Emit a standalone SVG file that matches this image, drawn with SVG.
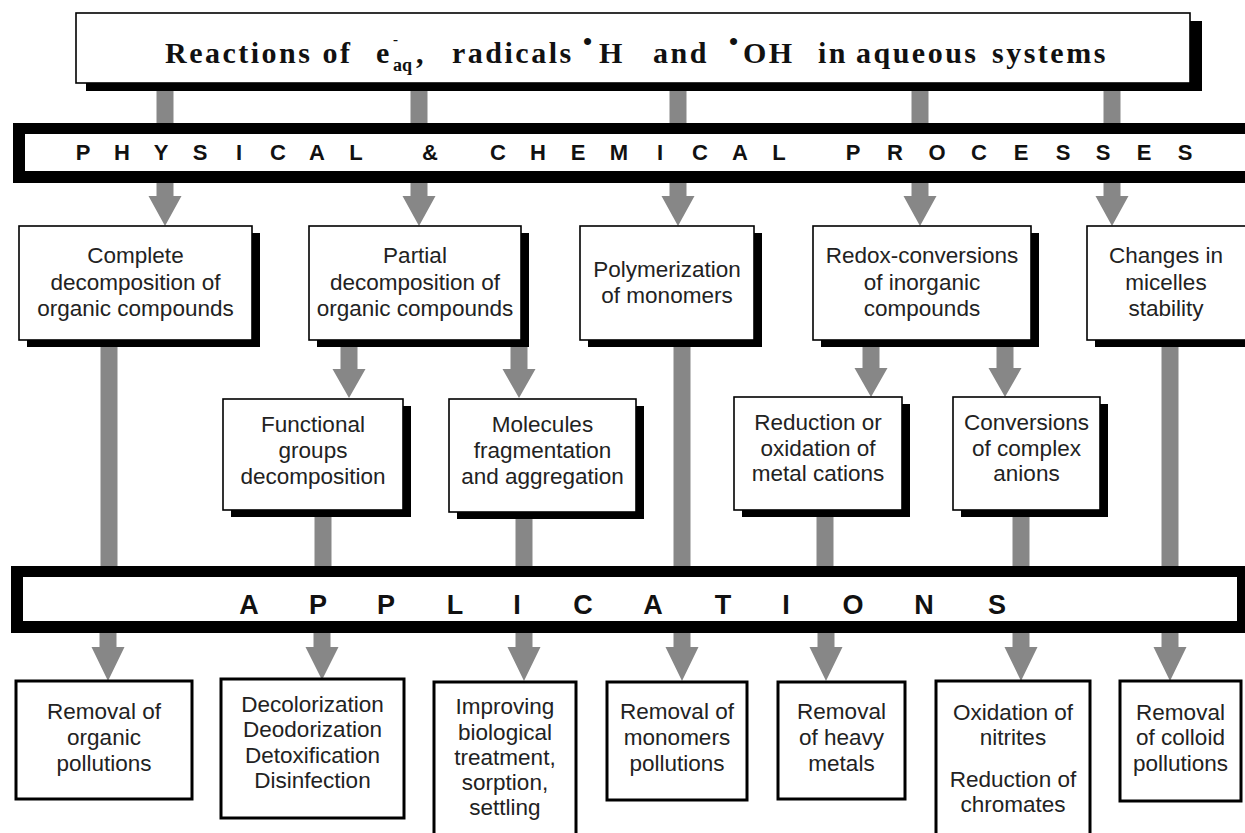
<svg xmlns="http://www.w3.org/2000/svg" width="1245" height="833" viewBox="0 0 1245 833">
<style>
.bg{fill:#fff}
.conn{fill:#878787}
.shadow{fill:#000}
.box{fill:#fff;stroke:#000;stroke-width:1.6}
.rbox{fill:#fff;stroke:#000;stroke-width:3}
.bar{fill:#000}
.t{font-family:"Liberation Sans",Arial,sans-serif;font-size:22.5px;fill:#222;text-anchor:middle}
.title{font-family:"Liberation Serif","Times New Roman",serif;font-weight:bold;font-size:30px;letter-spacing:2.5px;fill:#111}
.sm{letter-spacing:0}
.cap{font-family:"Liberation Sans",Arial,sans-serif;font-weight:bold;fill:#111;text-anchor:middle}
</style>
<rect class="bg" x="0" y="0" width="1245" height="833"/>

<g id="connectors">
  <!-- title to process bar -->
  <rect class="conn" x="156.5" y="88" width="17" height="36"/>
  <rect class="conn" x="410.5" y="88" width="17" height="36"/>
  <rect class="conn" x="669.5" y="88" width="17" height="36"/>
  <rect class="conn" x="911.5" y="88" width="17" height="36"/>
  <rect class="conn" x="1103.5" y="88" width="17" height="36"/>
  <!-- process bar to row 1 -->
  <path class="conn" d="M156.5 182h17v14h8l-16.5 30l-16.5-30h8z"/>
  <path class="conn" d="M410.5 182h17v14h8l-16.5 30l-16.5-30h8z"/>
  <path class="conn" d="M669.5 182h17v14h8l-16.5 30l-16.5-30h8z"/>
  <path class="conn" d="M911.5 182h17v14h8l-16.5 30l-16.5-30h8z"/>
  <path class="conn" d="M1103.5 182h17v14h8l-16.5 30l-16.5-30h8z"/>
  <!-- row 1 to row 2 -->
  <path class="conn" d="M340.5 340h17v29h8l-16.5 29l-16.5-29h8z"/>
  <path class="conn" d="M510.5 340h17v29h8l-16.5 29l-16.5-29h8z"/>
  <path class="conn" d="M862.5 340h17v28h8l-16.5 29l-16.5-29h8z"/>
  <path class="conn" d="M996.5 340h17v28h8l-16.5 29l-16.5-29h8z"/>
  <!-- down to applications bar -->
  <rect class="conn" x="100.5" y="340" width="17" height="228"/>
  <rect class="conn" x="314.5" y="510" width="17" height="58"/>
  <rect class="conn" x="515.5" y="512" width="17" height="56"/>
  <rect class="conn" x="673.5" y="340" width="17" height="228"/>
  <rect class="conn" x="816.5" y="510" width="17" height="58"/>
  <rect class="conn" x="1012.5" y="510" width="17" height="58"/>
  <rect class="conn" x="1161.5" y="340" width="17" height="228"/>
  <!-- applications bar to results -->
  <path class="conn" d="M99.5 632h17v15h8l-16.5 34l-16.5-34h8z"/>
  <path class="conn" d="M313.5 632h17v15h8l-16.5 33l-16.5-33h8z"/>
  <path class="conn" d="M515.5 632h17v15h8l-16.5 34l-16.5-34h8z"/>
  <path class="conn" d="M673.5 632h17v15h8l-16.5 34l-16.5-34h8z"/>
  <path class="conn" d="M817.5 632h17v15h8l-16.5 34l-16.5-34h8z"/>
  <path class="conn" d="M1012.5 632h17v15h8l-16.5 34l-16.5-34h8z"/>
  <path class="conn" d="M1161.5 632h17v15h8l-16.5 34l-16.5-34h8z"/>
</g>

<g id="title">
  <rect class="shadow" x="86" y="21" width="1116" height="70"/>
  <rect class="box" x="76" y="13" width="1114" height="70"/>
  <text class="title">
    <tspan x="376" y="63">e</tspan>
    <tspan class="sm" x="393" y="71" style="font-size:18px">aq</tspan>
    <tspan x="416" y="63">,</tspan>
    <tspan x="452" y="63">radicals</tspan>
    <tspan class="sm" x="583" y="50" style="font-size:26px">•</tspan>
    <tspan x="599" y="63">H</tspan>
    <tspan x="653" y="63">and</tspan>
    <tspan class="sm" x="729" y="50" style="font-size:26px">•</tspan>
    <tspan x="743" y="63">OH</tspan>
    <tspan x="818" y="63">in</tspan>
    <tspan x="856" y="63">aqueous</tspan>
    <tspan x="992" y="63">systems</tspan>
  </text>
  <text class="title" x="165" y="63">Reactions of</text>
  <text class="title sm" x="393" y="44" style="font-size:15px">-</text>
</g>

<g id="processes-bar">
  <rect class="bar" x="13" y="123" width="1250" height="60"/>
  <rect class="bg" x="25" y="134" width="1240" height="37"/>
  <text class="cap" y="160" style="font-size:22px" x="83 122 161 200 239 278 317 356 430 498 538 578 619 660 700 740 779 853 895 937 979 1021 1063 1103 1144 1185">PHYSICAL&amp;CHEMICALPROCESSES</text>
</g>

<g id="complete">
  <rect class="shadow" x="27" y="233" width="233" height="114"/>
  <rect class="box" x="19" y="226" width="233" height="114"/>
  <text class="t" x="135.5" y="263">Complete</text>
  <text class="t" x="135.5" y="289.5">decomposition of</text>
  <text class="t" x="135.5" y="316">organic compounds</text>
</g>
<g id="partial">
  <rect class="shadow" x="317" y="233" width="212" height="114"/>
  <rect class="box" x="309" y="226" width="212" height="114"/>
  <text class="t" x="415" y="263">Partial</text>
  <text class="t" x="415" y="289.5">decomposition of</text>
  <text class="t" x="415" y="316">organic compounds</text>
</g>
<g id="polymerization">
  <rect class="shadow" x="588" y="233" width="174" height="114"/>
  <rect class="box" x="580" y="226" width="174" height="114"/>
  <text class="t" x="667" y="277">Polymerization</text>
  <text class="t" x="667" y="303">of monomers</text>
</g>
<g id="redox">
  <rect class="shadow" x="821" y="233" width="218" height="114"/>
  <rect class="box" x="813" y="226" width="218" height="114"/>
  <text class="t" x="922" y="263">Redox-conversions</text>
  <text class="t" x="922" y="289.5">of inorganic</text>
  <text class="t" x="922" y="316">compounds</text>
</g>
<g id="micelles">
  <rect class="shadow" x="1095" y="233" width="170" height="114"/>
  <rect class="box" x="1087" y="226" width="170" height="114"/>
  <text class="t" x="1166" y="263">Changes in</text>
  <text class="t" x="1166" y="289.5">micelles</text>
  <text class="t" x="1166" y="316">stability</text>
</g>

<g id="functional">
  <rect class="shadow" x="231" y="406" width="180" height="111"/>
  <rect class="box" x="223" y="399" width="180" height="111"/>
  <text class="t" x="313" y="432">Functional</text>
  <text class="t" x="313" y="458">groups</text>
  <text class="t" x="313" y="484">decomposition</text>
</g>
<g id="molecules">
  <rect class="shadow" x="457" y="406" width="187" height="113"/>
  <rect class="box" x="449" y="399" width="187" height="113"/>
  <text class="t" x="542.5" y="432">Molecules</text>
  <text class="t" x="542.5" y="458">fragmentation</text>
  <text class="t" x="542.5" y="484">and aggregation</text>
</g>
<g id="metal-cations">
  <rect class="shadow" x="742" y="404" width="168" height="113"/>
  <rect class="box" x="734" y="397" width="168" height="113"/>
  <text class="t" x="818" y="430">Reduction or</text>
  <text class="t" x="818" y="455.5">oxidation of</text>
  <text class="t" x="818" y="481">metal cations</text>
</g>
<g id="complex-anions">
  <rect class="shadow" x="961" y="404" width="147" height="113"/>
  <rect class="box" x="953" y="397" width="147" height="113"/>
  <text class="t" x="1026.5" y="430">Conversions</text>
  <text class="t" x="1026.5" y="455.5">of complex</text>
  <text class="t" x="1026.5" y="481">anions</text>
</g>

<g id="applications-bar">
  <rect class="bar" x="11" y="566" width="1234" height="67"/>
  <rect class="bg" x="23" y="577" width="1214" height="44"/>
  <text class="cap" y="614" style="font-size:27px" x="249 318 386 455 517 583 653 723 786 853 924 997">APPLICATIONS</text>
</g>

<g id="removal-organic">
  <rect class="rbox" x="16" y="681" width="176" height="118"/>
  <text class="t" x="104" y="719">Removal of</text>
  <text class="t" x="104" y="745">organic</text>
  <text class="t" x="104" y="771">pollutions</text>
</g>
<g id="decolorization">
  <rect class="rbox" x="221" y="679" width="183" height="139"/>
  <text class="t" x="312.5" y="712">Decolorization</text>
  <text class="t" x="312.5" y="737">Deodorization</text>
  <text class="t" x="312.5" y="763">Detoxification</text>
  <text class="t" x="312.5" y="788">Disinfection</text>
</g>
<g id="biological">
  <rect class="rbox" x="434" y="682" width="142" height="165"/>
  <text class="t" x="505" y="714">Improving</text>
  <text class="t" x="505" y="740">biological</text>
  <text class="t" x="505" y="765">treatment,</text>
  <text class="t" x="505" y="790">sorption,</text>
  <text class="t" x="505" y="815">settling</text>
</g>
<g id="removal-monomers">
  <rect class="rbox" x="607" y="682" width="140" height="118"/>
  <text class="t" x="677" y="719">Removal of</text>
  <text class="t" x="677" y="745">monomers</text>
  <text class="t" x="677" y="771">pollutions</text>
</g>
<g id="removal-metals">
  <rect class="rbox" x="778" y="682" width="127" height="117"/>
  <text class="t" x="841.5" y="719">Removal</text>
  <text class="t" x="841.5" y="745">of heavy</text>
  <text class="t" x="841.5" y="771">metals</text>
</g>
<g id="nitrites-chromates">
  <rect class="rbox" x="936" y="681" width="154" height="165"/>
  <text class="t" x="1013" y="720">Oxidation of</text>
  <text class="t" x="1013" y="745">nitrites</text>
  <text class="t" x="1013" y="787">Reduction of</text>
  <text class="t" x="1013" y="812">chromates</text>
</g>
<g id="removal-colloid">
  <rect class="rbox" x="1120" y="681" width="121" height="120"/>
  <text class="t" x="1180.5" y="720">Removal</text>
  <text class="t" x="1180.5" y="745">of colloid</text>
  <text class="t" x="1180.5" y="771">pollutions</text>
</g>
</svg>
